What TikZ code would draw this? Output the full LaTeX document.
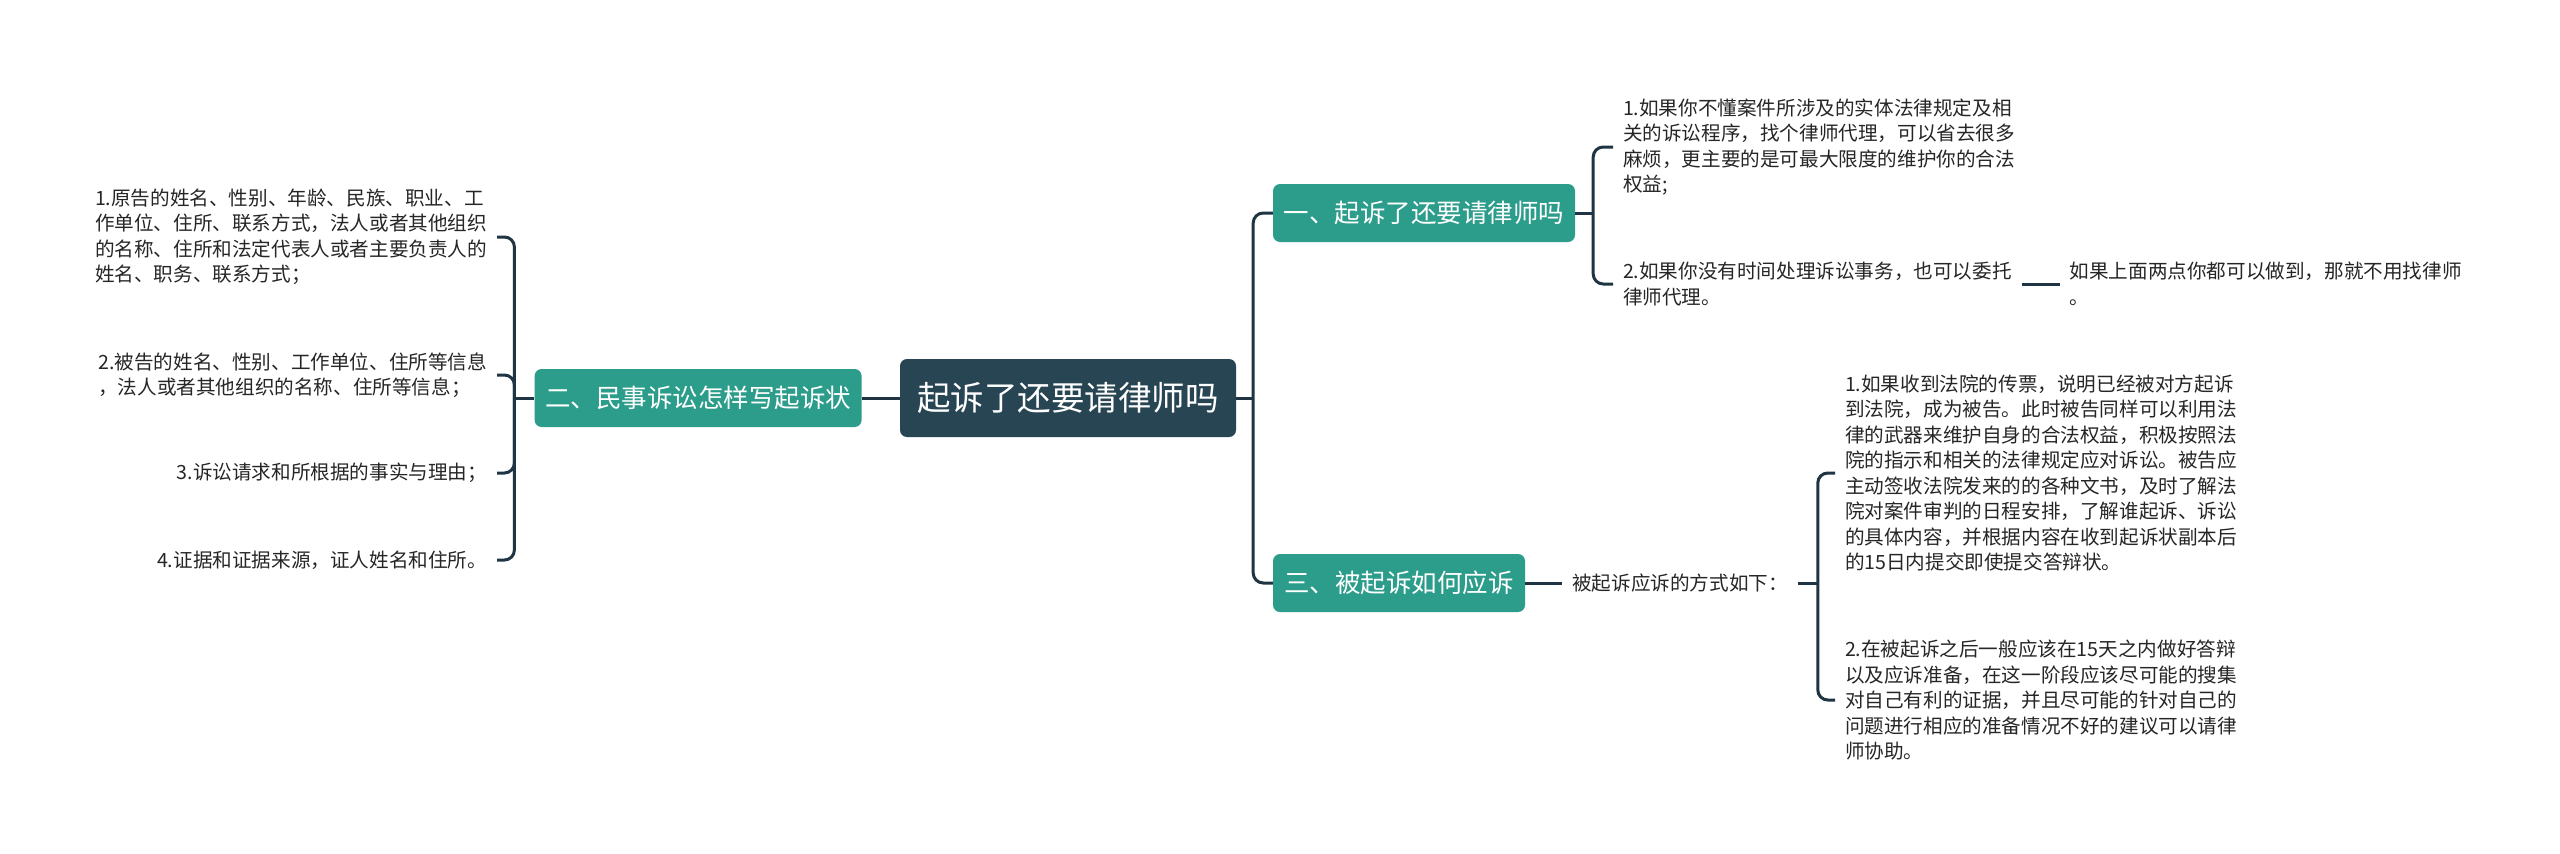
\documentclass[tikz,border=0pt]{standalone}
\usepackage{fontspec}
\setmainfont{Noto Sans CJK SC}
\usepackage{tikz}
\usetikzlibrary{positioning}
\definecolor{rootcol}{HTML}{284553}
\definecolor{topiccol}{HTML}{2C9C8B}
\definecolor{linkcol}{HTML}{1F3543}
\definecolor{leafcol}{HTML}{262626}

\begin{document}
\begin{tikzpicture}[
  x=1pt, y=-1pt,
  rootbox/.style={rounded corners=7pt, fill=rootcol, text=white, inner sep=0pt,
    minimum width=336pt, minimum height=78pt, font=\fontsize{33.5}{40}\selectfont},
  topic/.style={rounded corners=7pt, fill=topiccol, text=white, inner sep=0pt,
    minimum height=58pt, font=\fontsize{25.5}{30}\selectfont},
  leaf/.style={align=left, inner sep=0pt, outer xsep=10pt, text=leafcol,
    font=\fontsize{19.6}{25.5}\selectfont},
  link/.style={draw=linkcol, line width=3pt, rounded corners=10pt}
]
  \fill[white] (0,0) rectangle (2560,854);
  \useasboundingbox (0,0) rectangle (2560,854);

  \node[rootbox] (root) at (1068,398) {起诉了还要请律师吗};
  \node[topic, minimum width=327pt, left=38pt of root] (b2) {二、民事诉讼怎样写起诉状};
  \node[topic, minimum width=302pt] (b1) at (1424,213) {一、起诉了还要请律师吗};
  \node[topic, minimum width=252pt] (b3) at (1399,583) {三、被起诉如何应诉};

  \node[leaf, anchor=east] (la) at (497,237) {1.原告的姓名、性别、年龄、民族、职业、工\\作单位、住所、联系方式，法人或者其他组织\\的名称、住所和法定代表人或者主要负责人的\\姓名、职务、联系方式；};
  \node[leaf, anchor=east] (lb) at (497,375) {2.被告的姓名、性别、工作单位、住所等信息\\，法人或者其他组织的名称、住所等信息；};
  \node[leaf, anchor=east] (lc) at (497,473) {3.诉讼请求和所根据的事实与理由；};
  \node[leaf, anchor=east] (ld) at (497,560) {4.证据和证据来源，证人姓名和住所。};

  \node[leaf, anchor=west] (l1a) at (1613,147) {1.如果你不懂案件所涉及的实体法律规定及相\\关的诉讼程序，找个律师代理，可以省去很多\\麻烦，更主要的是可最大限度的维护你的合法\\权益;};
  \node[leaf, anchor=west] (l1b) at (1613,284) {2.如果你没有时间处理诉讼事务，也可以委托\\律师代理。};
  \node[leaf, right=38pt of l1b] (l1c) {如果上面两点你都可以做到，那就不用找律师\\。};

  \node[leaf, right=37pt of b3] (t3) {被起诉应诉的方式如下：};
  \node[leaf, anchor=west] (l3a) at (1835,473) {1.如果收到法院的传票，说明已经被对方起诉\\到法院，成为被告。此时被告同样可以利用法\\律的武器来维护自身的合法权益，积极按照法\\院的指示和相关的法律规定应对诉讼。被告应\\主动签收法院发来的的各种文书，及时了解法\\院对案件审判的日程安排，了解谁起诉、诉讼\\的具体内容，并根据内容在收到起诉状副本后\\的15日内提交即使提交答辩状。};
  \node[leaf, anchor=west] (l3b) at (1835,700) {2.在被起诉之后一般应该在15天之内做好答辩\\以及应诉准备，在这一阶段应该尽可能的搜集\\对自己有利的证据，并且尽可能的针对自己的\\问题进行相应的准备情况不好的建议可以请律\\师协助。};

  \coordinate (rj) at ([xshift=17pt]root.east);
  \coordinate (lj) at ([xshift=-20pt]b2.west);
  \coordinate (r1j) at ([xshift=18pt]b1.east);
  \coordinate (r3j) at ([xshift=20pt]t3.east);

  \draw[link] (root.east) -- (rj);
  \draw[link] (b1.west) -| (rj) |- (b3.west);
  \draw[link] (root.west) -- (b2.east);
  \draw[link] (b2.west) -- (lj);
  \draw[link] (la.east) -| (lj) |- (ld.east);
  \draw[link] (lb.east) -| (lj);
  \draw[link] (lc.east) -| (lj);
  \draw[link] (b1.east) -- (r1j);
  \draw[link] (l1a.west) -| (r1j) |- (l1b.west);
  \draw[link] (l1b.east) -- (l1c.west);
  \draw[link] (b3.east) -- (t3.west);
  \draw[link] (t3.east) -- (r3j);
  \draw[link] (l3a.west) -| (r3j) |- (l3b.west);
\end{tikzpicture}
\end{document}
